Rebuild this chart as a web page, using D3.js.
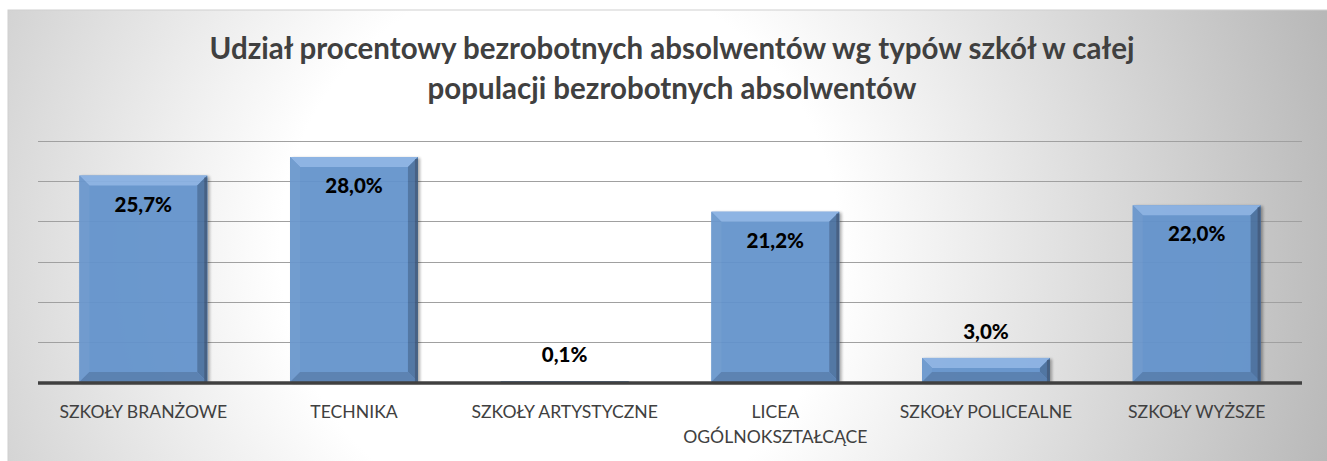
<!DOCTYPE html>
<html>
<head>
<meta charset="utf-8">
<script src="https://cdn.jsdelivr.net/npm/d3@7"></script>
<style>
  body { margin: 0; background: #fff; }
  svg { display: block; font-family: Lato, "Open Sans", sans-serif; }
</style>
</head>
<body>
<svg width="1327" height="461"></svg>
<script>
var categories = ["SZKOŁY BRANŻOWE", "TECHNIKA", "SZKOŁY ARTYSTYCZNE", "LICEA OGÓLNOKSZTAŁCĄCE", "SZKOŁY POLICEALNE", "SZKOŁY WYŻSZE"];
var values = [25.7, 28.0, 0.1, 21.2, 3.0, 22.0];
var yTicks = [0, 5, 10, 15, 20, 25, 30];
var titleLines = ["Udział procentowy bezrobotnych absolwentów wg typów szkół w całej", "populacji bezrobotnych absolwentów"];

var svg = d3.select("svg"),
    width = +svg.attr("width"),
    height = +svg.attr("height");

var margin = { left: 38, right: 25, top: 141, bottom: 79 };

var defs = svg.append("defs");

// background gradient
var bg = defs.append("radialGradient")
    .attr("id", "bg")
    .attr("gradientUnits", "userSpaceOnUse")
    .attr("cx", 560).attr("cy", 250).attr("r", 800);
bg.append("stop").attr("offset", 0).attr("stop-color", "#ffffff");
bg.append("stop").attr("offset", 0.35).attr("stop-color", "#ffffff");
bg.append("stop").attr("offset", 1).attr("stop-color", "#b8b8b8");

var shadow = defs.append("filter").attr("id", "shadow")
    .attr("x", "-10%").attr("y", "-10%").attr("width", "130%").attr("height", "130%");
shadow.append("feDropShadow")
    .attr("dx", 2).attr("dy", 1).attr("stdDeviation", 1.5)
    .attr("flood-color", "#000").attr("flood-opacity", 0.35);

svg.append("rect")
    .attr("x", 8).attr("y", 10)
    .attr("width", width).attr("height", height)
    .attr("fill", "url(#bg)")
    .attr("stroke", "#d0d0d0");

var x = d3.scaleBand()
    .domain(categories)
    .range([margin.left, width - margin.right])
    .paddingInner(0.393)
    .paddingOuter(0.1965);

var y = d3.scaleLinear()
    .domain([0, 30])
    .range([height - margin.bottom, margin.top]);

// gridlines
svg.append("g")
    .attr("class", "grid")
    .selectAll("line")
    .data(yTicks.filter(function(d) { return d > 0; }))
    .enter().append("line")
    .attr("x1", margin.left)
    .attr("x2", width - margin.right)
    .attr("y1", function(d) { return Math.round(y(d)) + 0.5; })
    .attr("y2", function(d) { return Math.round(y(d)) + 0.5; })
    .attr("stroke", "#a0a0a0")
    .attr("stroke-width", 1);

// bars with bevel
var bars = svg.append("g")
    .selectAll("g")
    .data(values)
    .enter().append("g")
    .attr("filter", "url(#shadow)")
    .attr("opacity", 0.94);

bars.each(function(d, i) {
    var g = d3.select(this);
    var x0 = x(categories[i]), x1 = x0 + x.bandwidth();
    var y0 = y(d), y1 = y(0);
    var h = y1 - y0;
    if (h < 0.5) return;
    var b = Math.min(10, h / 2);
    var pts = function(a) { return a.map(function(p) { return p.join(","); }).join(" "); };
    g.append("rect")
        .attr("x", x0).attr("y", y0)
        .attr("width", x1 - x0).attr("height", h)
        .attr("fill", "#6393cc");
    // top
    g.append("polygon")
        .attr("points", pts([[x0, y0], [x1, y0], [x1 - b, y0 + b], [x0 + b, y0 + b]]))
        .attr("fill", "#88b0e2");
    // left
    g.append("polygon")
        .attr("points", pts([[x0, y0], [x0 + b, y0 + b], [x0 + b, y1 - b], [x0, y1]]))
        .attr("fill", "#6a97cd");
    // right
    g.append("polygon")
        .attr("points", pts([[x1, y0], [x1, y1], [x1 - b, y1 - b], [x1 - b, y0 + b]]))
        .attr("fill", "#4a709f");
    // bottom
    g.append("polygon")
        .attr("points", pts([[x0, y1], [x1, y1], [x1 - b, y1 - b], [x0 + b, y1 - b]]))
        .attr("fill", "#527bae");
    // dark right rim
    g.append("rect")
        .attr("x", x1 - 3).attr("y", y0 + 2)
        .attr("width", 3).attr("height", Math.max(0, h - 2))
        .attr("fill", "#3a5474").attr("opacity", 0.8);
});

// baseline
svg.append("line")
    .attr("x1", margin.left).attr("x2", width - margin.right)
    .attr("y1", y(0) + 1).attr("y2", y(0) + 1)
    .attr("stroke", "#404040")
    .attr("stroke-width", 3.5);

// value labels
svg.append("g")
    .selectAll("text")
    .data(values)
    .enter().append("text")
    .attr("x", function(d, i) { return x(categories[i]) + x.bandwidth() / 2; })
    .attr("y", function(d) { return d > 10 ? y(d) + 36 : y(d) - 19; })
    .attr("text-anchor", "middle")
    .attr("font-size", 20.5)
    .attr("font-weight", 900)
    .attr("fill", "#000")
    .text(function(d) { return d.toFixed(1).replace(".", ",") + "%"; });

// category axis labels
var xAxis = svg.append("g")
    .attr("transform", "translate(0," + y(0) + ")")
    .call(d3.axisBottom(x).tickSize(0).tickPadding(0));
xAxis.select(".domain").remove();
xAxis.selectAll("text")
    .attr("font-family", "Lato, 'Open Sans', sans-serif")
    .attr("font-size", 17.6)
    .attr("fill", "#404040")
    .attr("dy", null)
    .attr("y", 36)
    .call(wrap, x.step());

function wrap(text, w) {
    text.each(function() {
        var t = d3.select(this),
            words = t.text().split(/\s+/),
            line = [],
            lines = [];
        words.forEach(function(word) {
            line.push(word);
            t.text(line.join(" "));
            if (t.node().getComputedTextLength() > w && line.length > 1) {
                line.pop();
                lines.push(line.join(" "));
                line = [word];
            }
        });
        lines.push(line.join(" "));
        t.text(null);
        lines.forEach(function(l, k) {
            t.append("tspan")
                .attr("x", 0)
                .attr("y", 36 + k * 25)
                .text(l);
        });
    });
}

// title
svg.append("text")
    .attr("x", 672)
    .attr("text-anchor", "middle")
    .attr("font-size", 29.5)
    .attr("font-weight", "bold")
    .attr("fill", "#404040")
    .selectAll("tspan")
    .data(titleLines)
    .enter().append("tspan")
    .attr("x", 672)
    .attr("y", function(d, i) { return 59 + i * 40; })
    .text(function(d) { return d; });
</script>
</body>
</html>
